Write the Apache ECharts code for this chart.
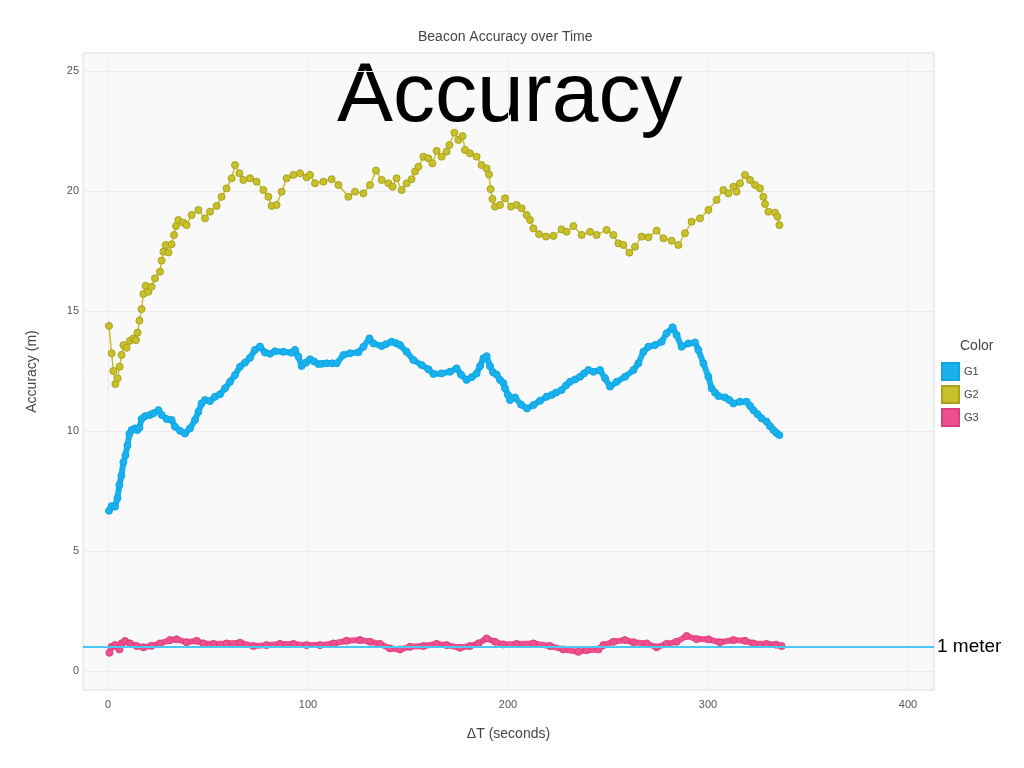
<!DOCTYPE html>
<html>
<head>
<meta charset="utf-8">
<script src="https://cdn.jsdelivr.net/npm/echarts@6/dist/echarts.min.js"></script>
<style>
html,body{margin:0;padding:0;background:#fff;}
#chart{width:1024px;height:768px;}
</style>
</head>
<body>
<div id="chart"></div>
<script>
const seriesNames = ['G1', 'G2', 'G3'];
const xTicks = [0, 100, 200, 300, 400];
const yTicks = [0, 5, 10, 15, 20, 25];
const referenceLevel = 1;

const g1 = [[0.5,6.68],[1.8,6.87],[3.5,6.85],[4.7,7.2],[5.7,7.75],[6.7,8.14],[7.7,8.7],[8.7,8.99],[9.7,9.39],[10.7,9.88],[11.8,10.04],[13.5,10.11],[14.7,10.04],[15.7,10.14],[16.8,10.5],[18.5,10.62],[21,10.67],[22.7,10.74],[25.2,10.87],[26.8,10.67],[29.3,10.5],[31.8,10.46],[33.5,10.18],[36,10.01],[38.5,9.9],[41,10.11],[43.5,10.46],[45.2,10.8],[46.8,11.15],[48.5,11.29],[51,11.25],[53.5,11.43],[56,11.53],[58.5,11.78],[61,12.05],[63.5,12.33],[66,12.68],[68.5,12.85],[71,13.05],[73.5,13.38],[76,13.52],[78.5,13.27],[81,13.22],[83.5,13.32],[87.7,13.3],[91.8,13.26],[93.5,13.38],[95.2,13.1],[96.8,12.71],[99,12.85],[101,12.99],[103,12.9],[105.2,12.79],[107,12.8],[109.3,12.82],[112,12.82],[114.3,12.82],[117.7,13.17],[121,13.24],[125.2,13.28],[127.7,13.51],[130.7,13.86],[132.7,13.65],[136.8,13.54],[139,13.62],[141.8,13.72],[144,13.66],[146,13.58],[149.3,13.3],[152.7,12.96],[156.8,12.75],[160.2,12.57],[162.7,12.38],[166.8,12.4],[171,12.47],[174.3,12.61],[176.5,12.35],[179.3,12.13],[182,12.25],[184.3,12.4],[186,12.7],[187.7,13.03],[189.3,13.12],[191,12.7],[192.5,12.45],[194.3,12.35],[196,12.13],[197.7,12.0],[198.5,11.78],[200,11.5],[201,11.29],[203.5,11.4],[206.5,11.1],[209.5,10.94],[212.7,11.08],[216,11.26],[219.3,11.43],[221.8,11.5],[224,11.6],[226.8,11.71],[229,11.9],[231,12.05],[233.5,12.15],[236,12.26],[238,12.4],[240.2,12.54],[242.7,12.47],[246,12.54],[248.5,12.2],[251,11.85],[254.3,12.05],[258.5,12.26],[262.7,12.54],[265.2,12.82],[267.7,13.3],[270.2,13.51],[273.5,13.58],[276.8,13.72],[279.3,14.07],[282.3,14.32],[284.3,14.0],[286.8,13.51],[290.2,13.65],[293.5,13.69],[295.2,13.38],[297.7,12.82],[300.2,12.26],[301.8,11.78],[303.5,11.6],[305.2,11.46],[308.5,11.4],[310.5,11.3],[312.7,11.15],[316,11.22],[319.3,11.22],[321,11.05],[322.7,10.87],[324.8,10.7],[326.8,10.53],[329.3,10.39],[331,10.2],[332.7,10.04],[334.2,9.92],[335.7,9.83]];

const g2 = [[0.5,14.38],[1.8,13.24],[2.7,12.5],[3.7,11.96],[4.8,12.2],[5.8,12.68],[6.8,13.17],[7.7,13.58],[9.3,13.47],[11,13.76],[12.7,13.86],[14,13.79],[14.8,14.1],[15.7,14.6],[16.8,15.08],[17.7,15.71],[18.8,16.05],[20.2,15.8],[21.8,16.01],[23.5,16.36],[26,16.64],[26.8,17.1],[27.7,17.47],[28.8,17.75],[30.2,17.44],[31.8,17.78],[33,18.17],[34,18.54],[35.2,18.79],[37.7,18.68],[39.3,18.58],[41.8,19.0],[45.2,19.21],[48.5,18.86],[51,19.14],[54.3,19.38],[56.8,19.76],[59.3,20.11],[61.8,20.53],[63.5,21.08],[65.7,20.74],[67.7,20.46],[71,20.53],[74.3,20.39],[77.7,20.04],[80.2,19.76],[81.8,19.38],[84.3,19.42],[86.8,19.97],[89.3,20.53],[92.7,20.67],[96,20.74],[99.3,20.57],[101,20.67],[103.5,20.32],[107.7,20.39],[111.8,20.49],[115.2,20.25],[120.2,19.76],[123.5,19.97],[127.7,19.9],[131,20.25],[134,20.85],[136.8,20.46],[140.2,20.32],[142.3,20.18],[144.3,20.53],[146.8,20.04],[149.3,20.32],[151.8,20.49],[153.5,20.81],[155.2,21.01],[157.7,21.43],[160.2,21.36],[162.2,21.15],[164.3,21.67],[166.8,21.43],[169.3,21.64],[170.7,21.92],[173.2,22.43],[175.2,22.13],[177.3,22.29],[178.5,21.71],[181,21.57],[184.3,21.43],[186.8,21.08],[189.3,20.94],[190.5,20.69],[191.3,20.08],[192.2,19.67],[193.5,19.35],[196,19.42],[198.5,19.7],[201.5,19.35],[204.3,19.42],[206.8,19.28],[209.3,19.0],[211,18.79],[212.7,18.44],[215.5,18.2],[219,18.1],[222.7,18.13],[226.8,18.4],[229.3,18.3],[232.7,18.54],[236.8,18.17],[241,18.3],[244.3,18.17],[249.3,18.38],[252.7,18.17],[255.2,17.82],[257.7,17.75],[260.7,17.43],[263.5,17.68],[266.8,18.1],[270.2,18.07],[274.3,18.35],[277.7,18.03],[281.8,17.93],[285.2,17.75],[288.5,18.24],[291.8,18.72],[296,18.86],[300.2,19.21],[304.3,19.63],[307.7,20.04],[310.2,19.9],[312.7,20.18],[314.3,19.97],[316,20.32],[318.5,20.67],[321,20.46],[323.5,20.25],[326,20.11],[327.7,19.76],[328.5,19.46],[330.2,19.14],[333.5,19.1],[334.7,18.93],[335.7,18.58]];

const g3 = [[0.7,0.76],[1.8,1.01],[3.5,1.08],[5.7,0.9],[6.8,1.15],[8.5,1.25],[11,1.15],[14.3,1.04],[17.7,0.99],[21.8,1.05],[26,1.15],[31,1.29],[34.3,1.32],[39.3,1.2],[44.3,1.26],[47.7,1.15],[52.7,1.13],[59.3,1.15],[66,1.18],[72.7,1.04],[79.3,1.08],[86,1.13],[92.7,1.13],[99.3,1.08],[106,1.08],[112.7,1.15],[119.3,1.26],[126,1.29],[131,1.22],[136,1.13],[141,0.94],[146,0.9],[151,1.01],[157.7,1.04],[164.3,1.13],[169.3,1.08],[176,0.97],[181,1.04],[185.2,1.15],[189.3,1.36],[193.5,1.22],[197.7,1.11],[204.3,1.13],[212.7,1.15],[221,1.04],[227.7,0.9],[235.2,0.8],[239.3,0.87],[245.2,0.9],[247.7,1.08],[252.7,1.22],[258.5,1.29],[262.7,1.2],[269.3,1.15],[274.3,0.99],[279.3,1.13],[284.3,1.22],[289.3,1.46],[294.3,1.33],[300.2,1.32],[306,1.2],[312.7,1.29],[318.5,1.26],[322.7,1.15],[329.3,1.13],[334,1.1],[336.8,1.04]];

const colors = ['#19b2ef', '#c9c12c', '#ee4f8d'];
const borders = ['#0fa6e3', '#a9a21a', '#d8407c'];
const widths = [6, 1.5, 6];
const dataSets = [g1, g2, g3];

const chart = echarts.init(document.getElementById('chart'));
const font = '"Liberation Sans", Arial, sans-serif';

const series = [{
  name: 'ref', type: 'line', data: [], silent: true,
  markLine: {
    symbol: 'none', silent: true, label: {show: false},
    lineStyle: {color: '#48c8f2', width: 2, type: 'solid'},
    data: [{yAxis: referenceLevel}]
  },
  z: 1
}];
seriesNames.forEach((n, i) => {
  series.push({
    name: n, type: 'line', data: dataSets[i],
    symbol: 'circle', symbolSize: 7, showSymbol: true,
    lineStyle: {color: colors[i], width: widths[i]},
    itemStyle: {color: colors[i], borderColor: borders[i], borderWidth: 1},
    z: 2 + i, animation: false
  });
});

chart.setOption({
  animation: false,
  backgroundColor: '#ffffff',
  grid: {left: 83, right: 90, top: 53, bottom: 78, show: true, backgroundColor: '#f9f9f9', borderColor: '#dddddd', borderWidth: 1},
  xAxis: {
    type: 'value', min: -12.5, max: 413, minInterval: 100, maxInterval: 100,
    name: 'ΔT (seconds)', nameLocation: 'middle', nameGap: 37,
    nameTextStyle: {fontFamily: font, fontSize: 14, color: '#444'},
    axisLine: {show: false}, axisTick: {show: false},
    axisLabel: {fontFamily: font, fontSize: 11, color: '#555', margin: 9,
      formatter: v => xTicks.includes(v) ? String(v) : ''},
    splitLine: {show: true, lineStyle: {color: '#ececec', width: 1}}
  },
  yAxis: {
    type: 'value', min: -0.79, max: 25.75, minInterval: 5, maxInterval: 5,
    name: 'Accuracy (m)', nameLocation: 'middle', nameGap: 44, nameRotate: 90,
    nameTextStyle: {fontFamily: font, fontSize: 14, color: '#444'},
    axisLine: {show: false}, axisTick: {show: false},
    axisLabel: {fontFamily: font, fontSize: 11, color: '#555', margin: 4,
      formatter: v => yTicks.includes(v) ? String(v) : ''},
    splitLine: {show: true, lineStyle: {color: '#ececec', width: 1}}
  },
  legend: {
    data: seriesNames, orient: 'vertical', left: 936, top: 357,
    icon: 'rect', itemWidth: 17, itemHeight: 17, itemGap: 4,
    textStyle: {fontFamily: font, fontSize: 11, color: '#444'},
    selectedMode: false
  },
  graphic: [
    {type: 'text', left: 508 - 90, top: 30, style: {text: 'Beacon Accuracy over Time', font: '14px ' + font, fill: '#444', textAlign: 'left'}},
    {type: 'text', left: 337, top: 56, style: {text: 'Accuracy', font: '84px ' + font, fill: '#000'}},
    {type: 'text', left: 937, top: 637, style: {text: '1 meter', font: '19px ' + font, fill: '#000'}},
    {type: 'text', left: 960, top: 339, style: {text: 'Color', font: '14px ' + font, fill: '#444'}}
  ],
  series: series
});
</script>
</body>
</html>
